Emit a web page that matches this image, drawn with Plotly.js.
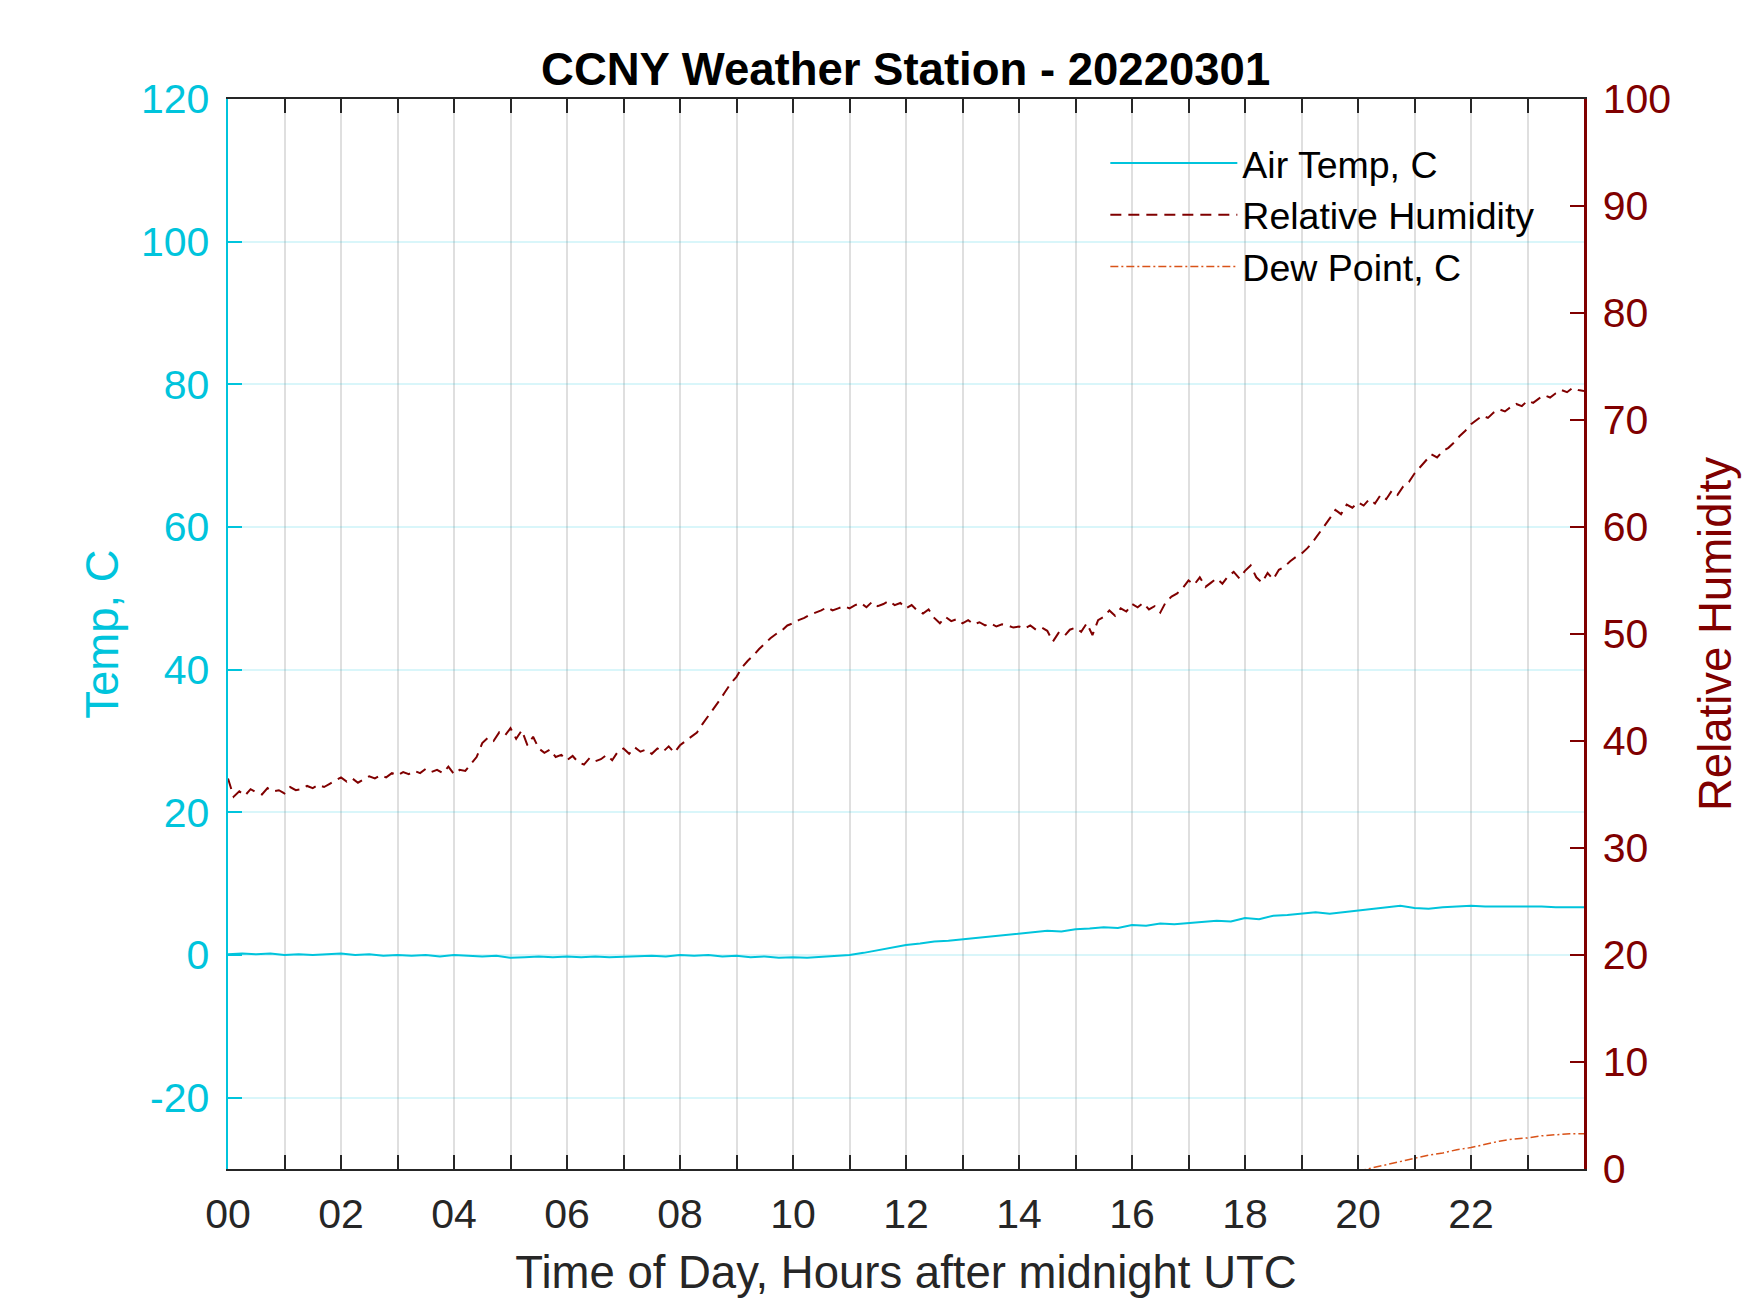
<!DOCTYPE html>
<html>
<head>
<meta charset="utf-8">
<script src="https://cdn.plot.ly/plotly-3.0.1.min.js"></script>
<style>html,body{margin:0;padding:0;background:#fff;}#chart{width:1750px;height:1313px;}</style>
</head>
<body>
<div id="chart"></div>
<script>
// ---- data ----
const tempStartHour = 0;      // first air temperature sample, hours UTC
const tempStepHours = 0.25;   // logger interval used for temperature readings
const airTempC = [
  0.1, 0.2, 0.1, 0.2,
  0.0, 0.1, 0.0, 0.1,
  0.2, 0.0, 0.1, -0.1,
  0.0, -0.1, 0.0, -0.2,
  0.0, -0.1, -0.2, -0.1,
  -0.4, -0.3, -0.2, -0.3,
  -0.2, -0.3, -0.2, -0.3,
  -0.2, -0.2, -0.1, -0.2,
  0.0, -0.1, 0.0, -0.2,
  -0.1, -0.3, -0.2, -0.4,
  -0.3, -0.4, -0.3, -0.2,
  0.0, 0.3, 0.7, 1.1,
  1.4, 1.6, 1.9, 2.0,
  2.2, 2.4, 2.5, 2.7,
  3.0, 3.2, 3.4, 3.3,
  3.6, 3.7, 3.9, 3.8,
  4.2, 4.1, 4.4, 4.3,
  4.5, 4.6, 4.8, 4.7,
  5.2, 5.0, 5.5, 5.6,
  5.8, 6.0, 5.8, 6.0,
  6.2, 6.4, 6.6, 6.9,
  6.6, 6.5, 6.7, 6.8,
  6.9, 6.8, 6.8, 6.9,
  6.8, 6.8, 6.7, 6.7,
  6.7
];

const rhStartHour = 0;
const rhStepHours = 0.1;
const relHumidity = [
  36.5, 34.8, 35.3, 34.9, 35.5, 35.2, 35.0, 35.6, 35.3, 35.4,
  35.1, 35.7, 35.4, 35.5, 35.8, 35.6, 35.9, 35.7, 36.0, 36.3,
  36.6, 36.2, 36.5, 36.1, 36.4, 36.7, 36.5, 36.8, 36.6, 37.0,
  36.8, 37.1, 36.9, 37.2, 37.0, 37.4, 37.1, 37.3, 37.0, 37.6,
  36.9, 37.3, 37.2, 37.9, 38.5, 39.8, 40.3, 40.0, 40.8, 40.5,
  41.2, 40.2, 41.0, 39.6, 40.4, 39.3, 38.9, 39.2, 38.5, 38.7,
  38.2, 38.6, 38.0, 37.8, 38.4, 38.1, 38.3, 38.7, 38.2, 39.0,
  39.3, 38.8, 39.4, 39.0, 39.2, 38.8, 39.3, 39.0, 39.5, 38.9,
  39.6, 40.0, 40.4, 40.8, 41.6, 42.3, 43.1, 43.8, 44.6, 45.4,
  46.0, 46.9, 47.5, 48.0, 48.6, 49.1, 49.6, 50.0, 50.3, 50.8,
  51.0, 51.3, 51.5, 51.8, 52.0, 52.2, 52.5, 52.2, 52.4, 52.6,
  52.4, 52.7, 52.9, 52.5, 53.0, 52.6, 52.8, 53.1, 52.7, 52.9,
  52.4, 52.7, 52.2, 51.9, 52.3, 51.5, 51.0, 51.6, 51.2, 51.4,
  51.0, 51.3, 50.9, 51.1, 50.8, 51.0, 50.7, 50.9, 50.8, 50.6,
  50.7, 50.5, 50.8, 50.4, 50.6, 50.3, 49.3, 50.1, 49.8, 50.4,
  50.6, 50.2, 51.0, 49.9, 51.3, 51.6, 52.2, 51.7, 52.4, 52.1,
  52.8, 52.5, 52.9, 52.3, 52.6, 52.0, 53.0, 53.5, 53.8, 54.3,
  55.0, 54.6, 55.3, 54.4, 54.8, 55.2, 54.7, 55.4, 55.8, 55.2,
  55.9, 56.4, 55.3, 54.8, 55.7, 55.1, 56.0, 56.3, 56.8, 57.2,
  57.5, 58.0, 58.6, 59.3, 60.0, 60.8, 61.6, 61.2, 62.1, 61.8,
  62.3, 62.0, 62.6, 62.2, 63.0, 62.6, 63.4, 63.0, 63.8, 64.2,
  65.0, 65.6, 66.2, 66.8, 66.5, 67.1, 67.4, 67.9, 68.5, 69.0,
  69.6, 70.0, 70.4, 70.2, 70.7, 71.0, 70.8, 71.2, 71.5, 71.3,
  71.8, 71.6, 72.0, 72.3, 72.1, 72.5, 72.8, 72.6, 73.0, 72.8,
  72.7
];

// dew point: only the part above the bottom of the plot is visible (from ~20 h)
const dewHours = [20.0, 20.25, 20.5, 20.75, 21.0, 21.25, 21.5, 21.75, 22.0, 22.25, 22.5, 22.75, 23.0, 23.25, 23.5, 23.75, 24.0];
const dewPointC = [-0.2, 0.1, 0.4, 0.7, 1.0, 1.3, 1.5, 1.8, 2.0, 2.3, 2.6, 2.8, 2.9, 3.1, 3.2, 3.3, 3.3];

const hourTicks = [0,1,2,3,4,5,6,7,8,9,10,11,12,13,14,15,16,17,18,19,20,21,22,23];
const hourLabels = ['00','','02','','04','','06','','08','','10','','12','','14','','16','','18','','20','','22',''];
const tempTicks = [-20, 0, 20, 40, 60, 80, 100, 120];
const tempLabels = ['-20', '0', '20', '40', '60', '80', '100', '120'];
const rhTicks = [0, 10, 20, 30, 40, 50, 60, 70, 80, 90, 100];

// ---- build ----
const tempHours = airTempC.map((_, i) => tempStartHour + i * tempStepHours);
const rhHours = relHumidity.map((_, i) => rhStartHour + i * rhStepHours);

const CYAN = 'rgb(0,196,220)';
const DARKRED = '#800000';
const ORANGE = '#D95319';
const AXK = '#262626';
const FONT = 'Liberation Sans, Arial, Helvetica, sans-serif';

const traces = [
  {x: tempHours, y: airTempC, name: 'Air Temp, C', type: 'scatter', mode: 'lines',
   line: {color: CYAN, width: 2}, yaxis: 'y'},
  {x: rhHours, y: relHumidity, name: 'Relative Humidity', type: 'scatter', mode: 'lines',
   line: {color: DARKRED, width: 2, dash: '11px,7px'}, yaxis: 'y2'},
  {x: dewHours, y: dewPointC, name: 'Dew Point, C', type: 'scatter', mode: 'lines',
   line: {color: ORANGE, width: 1.5, dash: '8px,3px,2px,3px'}, yaxis: 'y2'}
];

const layout = {
  width: 1750, height: 1313, autosize: false,
  paper_bgcolor: '#fff', plot_bgcolor: '#fff',
  margin: {l: 227.5, r: 166.25, t: 98.5, b: 144.4, pad: 0},
  font: {family: FONT, color: AXK},
  showlegend: true,
  title: {text: '<b>CCNY Weather Station - 20220301</b>', font: {family: FONT, size: 45.5, color: '#000'},
          x: 0.5175, xref: 'container', xanchor: 'center', y: 1 - 69/1313, yref: 'container', yanchor: 'middle'},
  xaxis: {
    range: [0, 24], tickmode: 'array', tickvals: hourTicks, ticktext: hourLabels,
    ticks: 'inside', ticklen: 14, tickwidth: 2, tickcolor: AXK, ticklabelstandoff: 8,
    showline: true, linecolor: AXK, linewidth: 2, mirror: 'ticks',
    showgrid: true, gridcolor: '#DFDFDF', gridwidth: 2, zeroline: false,
    tickfont: {family: FONT, size: 41, color: AXK},
    title: {text: 'Time of Day, Hours after midnight UTC', font: {family: FONT, size: 45.5, color: AXK}, standoff: 20},
    automargin: false
  },
  yaxis: {
    range: [-30, 120], tickmode: 'array', tickvals: tempTicks, ticktext: tempLabels,
    ticks: 'inside', ticklen: 14, tickwidth: 2, tickcolor: CYAN, ticklabelstandoff: 8,
    showline: true, linecolor: CYAN, linewidth: 2.5, mirror: false,
    showgrid: true, gridcolor: 'rgba(0,196,220,0.15)', gridwidth: 2, zeroline: false,
    tickfont: {family: FONT, size: 41, color: CYAN},
    title: {text: 'Temp, C', font: {family: FONT, size: 45.5, color: CYAN}, standoff: 8},
    automargin: false
  },
  yaxis2: {
    overlaying: 'y', side: 'right', anchor: 'x',
    range: [0, 100], tickmode: 'array', tickvals: rhTicks,
    ticks: 'inside', ticklen: 14, tickwidth: 2, tickcolor: DARKRED, ticklabelstandoff: 8,
    showline: true, linecolor: DARKRED, linewidth: 2.5,
    showgrid: false, zeroline: false,
    tickfont: {family: FONT, size: 41, color: DARKRED},
    title: {text: 'Relative Humidity', font: {family: FONT, size: 45.5, color: DARKRED}, standoff: 29},
    automargin: false
  },
  legend: {
    x: 0.647, y: 0.969, xanchor: 'left', yanchor: 'top', xref: 'paper', yref: 'paper',
    bgcolor: 'rgba(0,0,0,0)', borderwidth: 0,
    font: {family: FONT, size: 37.5, color: '#000'},
    itemwidth: 127, tracegroupgap: 0
  }
};

Plotly.newPlot('chart', traces, layout, {displayModeBar: false, staticPlot: true});
</script>
</body>
</html>
